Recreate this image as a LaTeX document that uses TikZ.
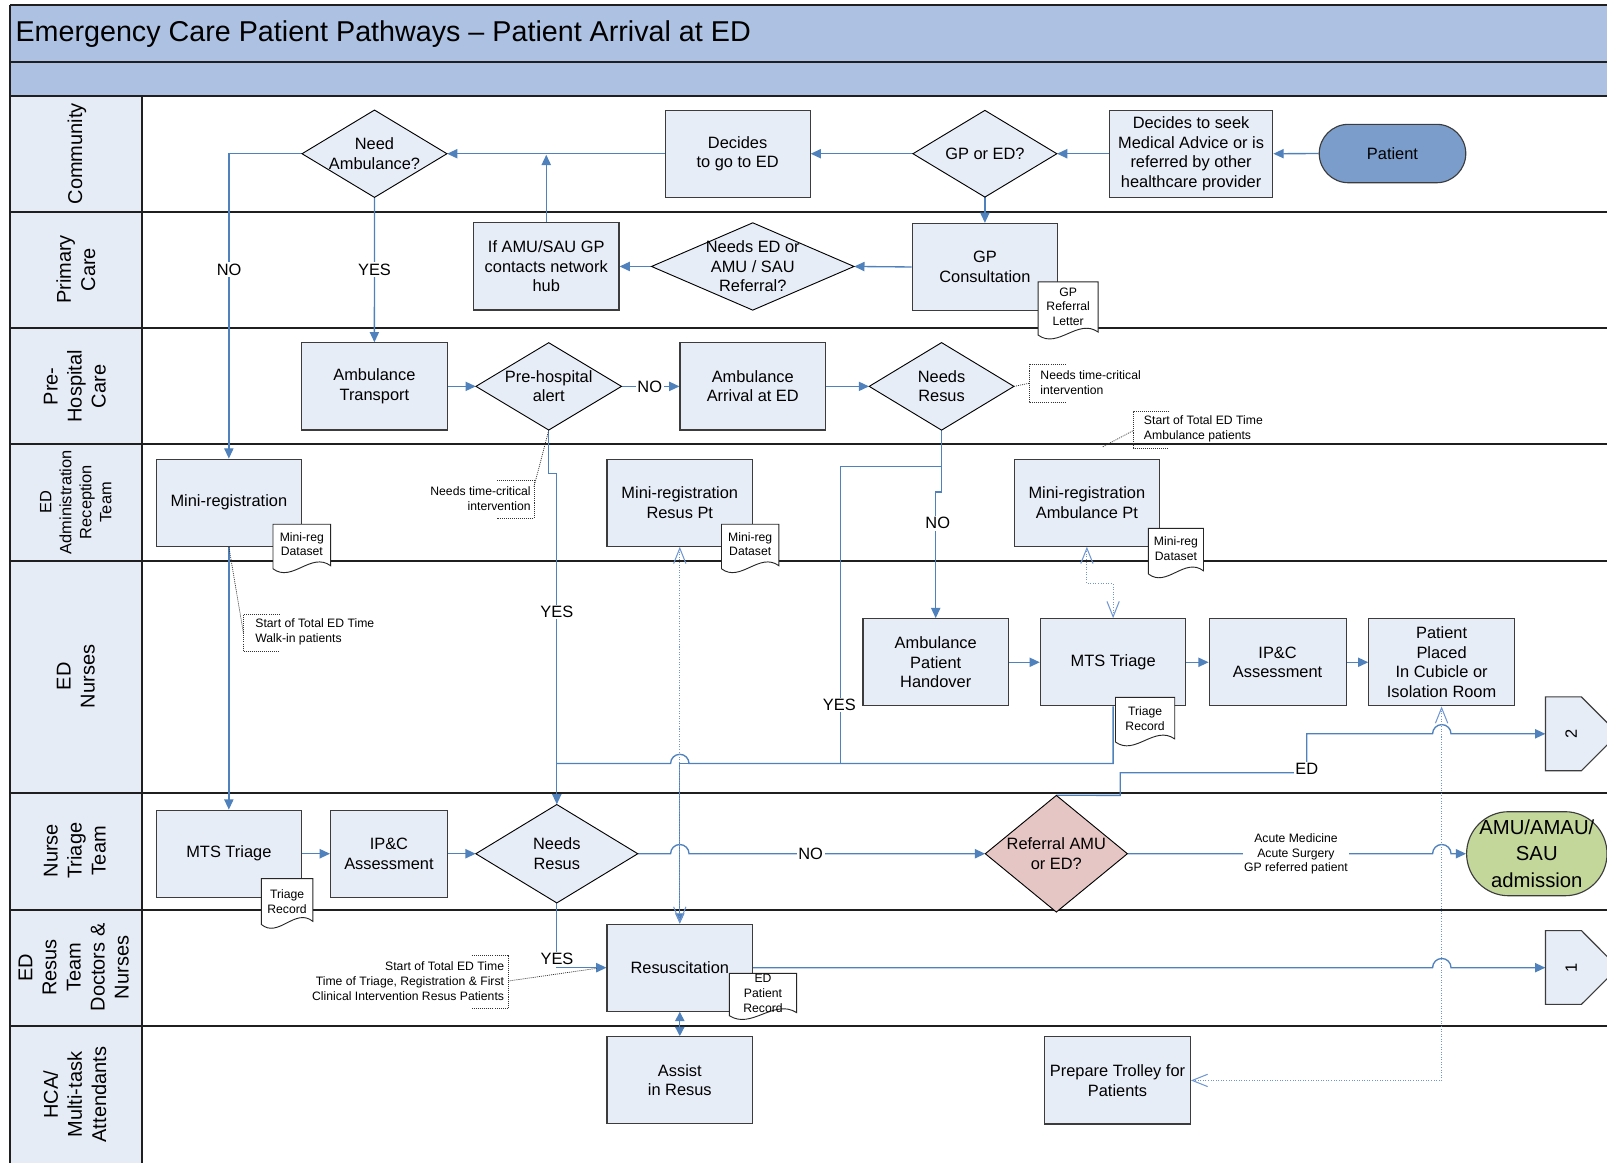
\documentclass[tikz,border=0pt]{standalone}
\usepackage{fontspec}
\usepackage{graphicx}
\setmainfont{Liberation Sans}
\usetikzlibrary{arrows.meta}
\pgfdeclarelayer{lanes}
\pgfdeclarelayer{wires}
\pgfsetlayers{lanes,wires,main}
\definecolor{hdr}{RGB}{173,194,226}
\definecolor{lanefill}{RGB}{230,236,246}
\definecolor{boxfill}{RGB}{231,237,247}
\definecolor{connc}{RGB}{79,129,189}
\definecolor{dotcc}{RGB}{110,150,210}
\definecolor{patfill}{RGB}{122,157,204}
\definecolor{amufill}{RGB}{196,215,155}
\definecolor{reffill}{RGB}{230,198,196}
\definecolor{bord}{RGB}{60,60,60}
\newcommand\bodyfont{\fontsize{16}{19}\selectfont}
\newcommand\notefont{\fontsize{11.9}{14.4}\selectfont}
\newcommand\lanefont{\fontsize{19.5}{23.5}\selectfont}
% diamond: name, cx, cy, half width, half height, text, fill
\newcommand\diam[7]{%
  \filldraw[diaS, fill=#7] ({#2-#4},#3) -- (#2,{#3-#5}) -- ({#2+#4},#3) -- (#2,{#3+#5}) -- cycle;
  \node[diatext, minimum width={2*#4}, minimum height={2*#5}] (#1) at (#2,#3) {#6};}
% document: name, x1, ytop, x2, ybottom-left, text, text centre y
\newcommand\docsh[7]{%
  \filldraw[docS] (#2,#3) -- (#4,#3) -- (#4,{#5-3}) .. controls ({#2+0.66*(#4-#2)},{#5-17}) and ({#2+0.33*(#4-#2)},{#5+14}) .. (#2,#5) -- cycle;
  \node[doctext] (#1) at ({(#2+#4)/2},#7) {#6};}
\begin{document}
\begin{tikzpicture}[x=1pt,y=-1pt,
  box/.style={draw=bord, line width=1.1pt, fill=boxfill, minimum width=142pt, minimum height=85pt, inner sep=2pt, align=center, font=\bodyfont},
  term/.style={box, rounded corners=28.5pt, fill=patfill, minimum width=143pt, minimum height=57pt},
  diaS/.style={draw=black, line width=0.9pt},
  diatext/.style={inner sep=0pt, align=center, font=\bodyfont},
  docS/.style={draw=black!85, line width=0.9pt, fill=white},
  doctext/.style={inner sep=0pt, align=center, font=\notefont},
  conn/.style={draw=connc, line width=1.3pt},
  arr/.style={conn, -{Triangle[length=10pt,width=9pt]}},
  dotc/.style={draw=dotcc, line width=1pt, dash pattern=on 1pt off 1.5pt, {Straight Barb[length=15pt,width=12pt]}-{Straight Barb[length=15pt,width=12pt]}},
  lbl/.style={fill=white, inner sep=1.5pt, font=\bodyfont},
  note/.style={font=\notefont, align=left, inner sep=0pt},
  brk/.style={draw=black!80, line width=0.7pt, dash pattern=on 1pt off 1pt},
  lanelbl/.style={rotate=90, align=center, font=\lanefont, inner sep=0pt},
  laneline/.style={draw=black!88, line width=1.8pt},
  offS/.style={draw=bord, line width=1.1pt, fill=boxfill}
]
\useasboundingbox (0,0) rectangle (1568,1134);
\begin{pgfonlayer}{lanes}
\fill[white] (0,0) rectangle (1568,1134);
\fill[hdr] (10,4.6) rectangle (1580,93.3);
\fill[lanefill] (10,93.3) rectangle (138.4,1140);
\foreach \yy in {4.6,60.8,93.3,206.5,320,433.5,547,774,887.5,1001}
  \draw[laneline] (10,\yy) -- (1580,\yy);
\draw[laneline] (10,4.6) -- (10,1140);
\draw[laneline] (138.4,93.3) -- (138.4,1140);
\end{pgfonlayer}

% title and lane names
\node[anchor=west, inner sep=0pt, font=\fontsize{28}{32}\selectfont] (title) at (15,33) {Emergency Care Patient Pathways – Patient Arrival at ED};
\node[lanelbl] (lcom) at (75,150) {Community};
\node[lanelbl] (lpri) at (74,263) {Primary\\Care};
\node[lanelbl] (lpre) at (73,377) {Pre-\\Hospital\\Care};
\node[lanelbl, font=\fontsize{16}{19.5}\selectfont] (ladm) at (74,490) {ED\\Administration\\Reception\\Team};
\node[lanelbl] (lnur) at (74,660) {ED\\Nurses};
\node[lanelbl] (ltri) at (73,830) {Nurse\\Triage\\Team};
\node[lanelbl] (lres) at (72,944) {ED\\Resus\\Team\\Doctors \&\\Nurses};
\node[lanelbl] (lhca) at (73,1068) {HCA/\\Multi-task\\Attendants};

% Community
\diam{needamb}{365.4}{150}{70.7}{42.6}{Need\\Ambulance?}{boxfill}
\node[box, minimum width=141.5] (decide) at (719.7,150) {Decides\\to go to ED};
\diam{gped}{961}{150}{70.2}{42.3}{GP or ED?}{boxfill}
\node[box, minimum width=159.5] (seek) at (1162.2,150) {Decides to seek\\Medical Advice or is\\referred by other\\healthcare provider};
\node[term] (patient) at (1358.7,149.8) {Patient};

% Primary care
\node[box] (ifamu) at (533,260) {If AMU/SAU GP\\contacts network\\hub};
\diam{needed}{734.5}{260}{98.8}{42.6}{Needs ED or\\AMU / SAU\\Referral?}{boxfill}
\node[box] (gpc) at (961,260.5) {GP\\Consultation};

% Pre-hospital
\node[box] (ambt) at (365.3,377) {Ambulance\\Transport};
\diam{pha}{535.4}{377}{71}{42.6}{Pre-hospital\\alert}{boxfill}
\node[box] (amba) at (734.5,377) {Ambulance\\Arrival at ED};
\diam{nr1}{918.7}{377}{70.6}{42.7}{Needs\\Resus}{boxfill}

% ED admin
\node[box] (minireg) at (223.3,490.5) {Mini-registration};
\node[box] (mrr) at (663.3,490.5) {Mini-registration\\Resus Pt};
\node[box] (mra) at (1060.5,490.5) {Mini-registration\\Ambulance Pt};

% ED nurses
\node[box] (handover) at (913,646.2) {Ambulance\\Patient\\Handover};
\node[box] (mts1) at (1086.1,646.2) {MTS Triage};
\node[box, minimum width=133.6] (ipc1) at (1246.6,646.2) {IP\&C\\Assessment};
\node[box] (pp) at (1406.6,646.2) {Patient\\Placed\\In Cubicle or\\Isolation Room};
\filldraw[offS] (1508,680) -- (1543,680) -- (1579,716) -- (1543,752) -- (1508,752) -- cycle;
\node[inner sep=0pt, minimum width=50pt, minimum height=72pt, font=\bodyfont] (off2) at (1533,716) {\rotatebox{90}{2}};

% Nurse triage
\node[box] (mts2) at (223.3,833) {MTS Triage};
\node[box, minimum width=114] (ipc2) at (379.5,833) {IP\&C\\Assessment};
\diam{nr2}{543.3}{833}{79}{48}{Needs\\Resus}{boxfill}
\diam{ref}{1030.7}{833}{69.3}{56.9}{Referral AMU\\or ED?}{reffill}
\node[term, fill=amufill, minimum width=137pt, minimum height=82pt, rounded corners=41pt, font=\fontsize{19.8}{26}\selectfont] (amu) at (1499.5,833) {AMU/AMAU/\\SAU\\admission};

% Resus
\node[box] (resus) at (663.3,944.2) {Resuscitation};
\filldraw[offS] (1508,908) -- (1543,908) -- (1579,944.2) -- (1543,980) -- (1508,980) -- cycle;
\node[inner sep=0pt, minimum width=50pt, minimum height=72pt, font=\bodyfont] (off1) at (1533,944.2) {\rotatebox{90}{1}};

% HCA
\node[box] (assist) at (663.3,1054) {Assist\\in Resus};
\node[box] (trolley) at (1090.4,1054.2) {Prepare Trolley for\\Patients};

\coordinate (joinA) at (533,151);
\coordinate (n2tail) at (1076,436);

% connectors
\begin{pgfonlayer}{wires}
\draw[arr] (patient.west) -- (seek.east);
\draw[arr] (seek.west) -- (gped.east);
\draw[arr] (gped.west) -- (decide.east);
\draw[arr] (decide.west) -- (needamb.east);
\draw[arr] (gped.south) -- (gpc.north);
\draw[arr] (gpc.west) -- (needed.east);
\draw[arr] (needed.west) -- (ifamu.east);
\draw[arr] (ifamu.north) -- (joinA);
\draw[arr] (needamb.west) -| (minireg.north);
\draw[arr] (needamb.south) -- (ambt.north);
\draw[arr] (ambt.east) -- (pha.west);
\draw[arr] (pha.east) -- (amba.west);
\draw[arr] (amba.east) -- (nr1.west);
\draw[arr] (nr1.south) -- (918.7,480) -| (handover.north);
\draw[arr] (nr1.south) -- (918.7,455) -- (820,455) -- (820,745) -- (663.3,745) -- (resus.north);
\draw[conn] (mts1.south) -- (1086.1,745) -- (672.3,745) arc[start angle=0, end angle=180, radius=9pt] -- (543.3,745);
\draw[arr] (pha.south) -- ++(0,42.4) -| (nr2.north);
\draw[arr] (minireg.south) -- (mts2.north);
\draw[arr] (mts2.east) -- (ipc2.west);
\draw[arr] (ipc2.east) -- (nr2.west);
\draw[arr] (nr2.east) -- (654.3,833) arc[start angle=180, end angle=0, radius=9pt] -- (ref.west);
\draw[arr] (ref.east) -- (1397.8,833) arc[start angle=180, end angle=0, radius=9pt] -- (amu.west);
\draw[arr] (ref.north) -- (1093,776.1) -- (1093,754) -- (1275,754) -- (1275,716) -- (1397.8,716) arc[start angle=180, end angle=0, radius=9pt] -- (off2.west);
\draw[arr] (nr2.south) |- (resus.west);
\draw[arr] (handover.east) -- (mts1.west);
\draw[arr] (mts1.east) -- (ipc1.west);
\draw[arr] (ipc1.east) -- (pp.west);
\draw[arr] (resus.east) -- (1397.8,944.2) arc[start angle=180, end angle=0, radius=9pt] -- (off1.west);
\draw[conn, {Triangle[length=9pt,width=9pt]}-{Triangle[length=9pt,width=9pt]}] (resus.south) -- (assist.north);
\draw[dotc] (resus.north) -- (mrr.south);
\draw[dotc] (pp.south) |- (trolley.east);
\draw[dotc] (mra.south) -- ++(0,36) -| (mts1.north);
\end{pgfonlayer}

% documents
\docsh{dGP}{1013}{275}{1071.5}{327}{GP\\Referral\\Letter}{299.2}
\docsh{dMR1}{266.4}{511.5}{322.6}{555}{Mini-reg\\Dataset}{531}
\docsh{dMR2}{704}{511.5}{760}{555}{Mini-reg\\Dataset}{531}
\docsh{dMR3}{1120.5}{515.5}{1174.3}{560}{Mini-reg\\Dataset}{535}
\docsh{dTR1}{1088.4}{680.5}{1146.2}{724}{Triage\\Record}{701}
\docsh{dTR2}{255}{857.3}{305.2}{902}{Triage\\Record}{879.7}
\docsh{dEPR}{711.6}{949.7}{777.3}{991}{ED\\Patient\\Record}{969.3}

% annotations
\node[note, anchor=west] (n1) at (1015,373) {Needs time-critical\\intervention};
\draw[brk] (1040,355.5) -- (1004,355.5) -- (1004,392.5) -- (1040,392.5);
\draw[brk] (nr1.east) -- (1004,374);
\node[note, anchor=west] (n2) at (1116,418.5) {Start of Total ED Time\\Ambulance patients};
\draw[brk] (1141,401) -- (1106,401) -- (1106,437) -- (1141,437);
\draw[brk] (n2tail) -- (1106,420);
\node[note, align=right, anchor=east] (n3) at (518,486.5) {Needs time-critical\\intervention};
\draw[brk] (485,468.3) -- (521,468.3) -- (521,505.7) -- (485,505.7);
\draw[brk] (pha.south) -- (521,475);
\node[note, anchor=west] (n4) at (249,616.8) {Start of Total ED Time\\Walk-in patients};
\draw[brk] (273,599.4) -- (237.5,599.4) -- (237.5,635.8) -- (273,635.8);
\draw[brk] (minireg.south) -- (237.5,617.6);
\node[note, align=right, anchor=east] (n5) at (492,957.5) {Start of Total ED Time\\Time of Triage, Registration \& First\\Clinical Intervention Resus Patients};
\draw[brk] (460.5,931.8) -- (496,931.8) -- (496,983.8) -- (460.5,983.8);
\draw[brk] (496,957.2) -- (582.4,944.8);

% connector labels
\node[lbl] (l1) at (223.5,263) {NO};
\node[lbl] (l2) at (365.4,263) {YES};
\node[lbl] (l3) at (634,377) {NO};
\node[lbl] (l4) at (915,510.5) {NO};
\node[lbl] (l5) at (543.3,597) {YES};
\node[lbl] (l6) at (819,688) {YES};
\node[lbl] (l7) at (1275,750.5) {ED};
\node[lbl] (l8) at (791,833) {NO};
\node[lbl] (l9) at (543.5,936) {YES};
\node[lbl, font=\notefont, align=center, inner sep=1pt] (l10) at (1264.5,833.3) {Acute Medicine\\Acute Surgery\\GP referred patient};
\end{tikzpicture}
\end{document}
